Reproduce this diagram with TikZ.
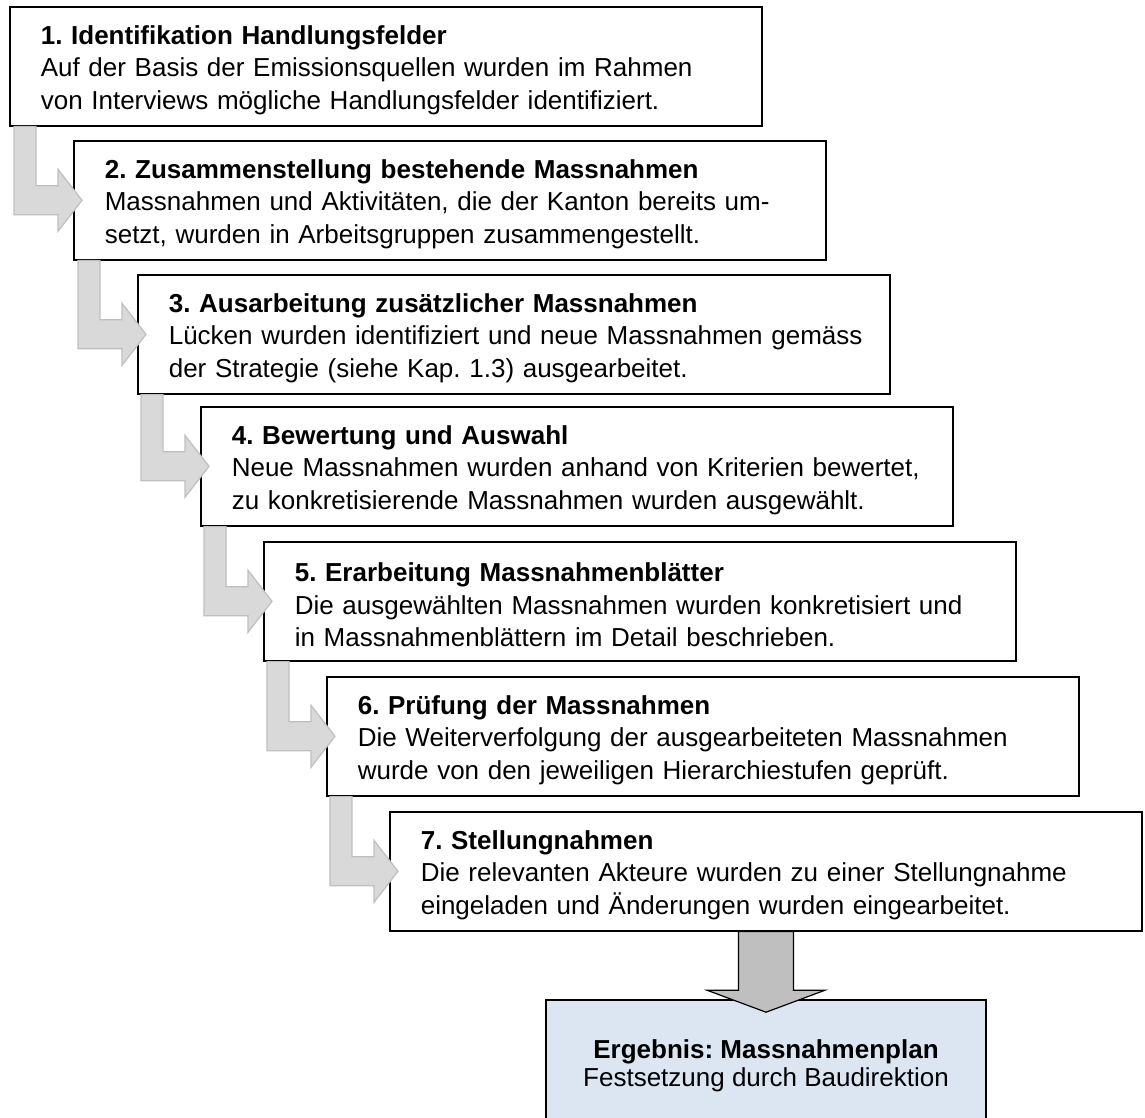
\documentclass[tikz,border=0pt]{standalone}
\usepackage{fontspec}
\setmainfont{Liberation Sans}
\usepackage{xcolor}
\usetikzlibrary{calc}
\frenchspacing

\definecolor{elbowfill}{HTML}{D9D9D9}
\definecolor{elbowline}{HTML}{BFBFBF}
\definecolor{downfill}{HTML}{BFBFBF}
\definecolor{resultfill}{HTML}{DCE6F2}

\tikzset{
  stepbox/.style={draw, line width=0.8pt, fill=white, anchor=north west,
    text width=376pt, inner xsep=0pt, inner ysep=0pt, text height=13.2pt,
    execute at begin node={\leftskip=15.5pt\relax},
    minimum height=59.5pt, align=left, font=\fontsize{13}{16.2}\selectfont},
  resultbox/.style={draw, line width=0.8pt, fill=resultfill,
    minimum width=220pt, minimum height=66pt, align=center,
    font=\fontsize{13}{14}\selectfont},
  elbow/.style={fill=elbowfill, draw=elbowline, line width=0.6pt, line join=miter},
  downarrow/.style={fill=downfill, draw=black, line width=0.6pt, line join=miter}
}

\begin{document}
\begin{tikzpicture}[x=0.5pt, y=-0.5pt]
  \fill[white] (0,0) rectangle (1145,1118);
  \useasboundingbox (0,0) rectangle (1145,1118);

  % steps
  \node[stepbox] (b1) at (9,6) {\textbf{1. Identifikation Handlungsfelder}\\Auf der Basis der Emissionsquellen wurden im Rahmen\\von Interviews mögliche Handlungsfelder identifiziert.};
  \node[stepbox] (b2) at (73,140) {\textbf{2. Zusammenstellung bestehende Massnahmen}\\Massnahmen und Aktivitäten, die der Kanton bereits um-\\setzt, wurden in Arbeitsgruppen zusammengestellt.};
  \node[stepbox] (b3) at (137,274) {\textbf{3. Ausarbeitung zusätzlicher Massnahmen}\\Lücken wurden identifiziert und neue Massnahmen gemäss\\der Strategie (siehe Kap. 1.3) ausgearbeitet.};
  \node[stepbox] (b4) at (200,406) {\textbf{4. Bewertung und Auswahl}\\Neue Massnahmen wurden anhand von Kriterien bewertet,\\zu konkretisierende Massnahmen wurden ausgewählt.};
  \node[stepbox] (b5) at (263,541) {\textbf{5. Erarbeitung Massnahmenblätter}\\Die ausgewählten Massnahmen wurden konkretisiert und\\in Massnahmenblättern im Detail beschrieben.};
  \node[stepbox] (b6) at (326,676) {\textbf{6. Prüfung der Massnahmen}\\Die Weiterverfolgung der ausgearbeiteten Massnahmen\\wurde von den jeweiligen Hierarchiestufen geprüft.};
  \node[stepbox] (b7) at (389,811) {\textbf{7. Stellungnahmen}\\Die relevanten Akteure wurden zu einer Stellungnahme\\eingeladen und Änderungen wurden eingearbeitet.};

  % result
  \node[resultbox] (res) at (766,1066) {\textbf{Ergebnis: Massnahmenplan}\\Festsetzung durch Baudirektion};

  % bent arrows between the steps
  \foreach \a/\b in {b1/b2,b2/b3,b3/b4,b4/b5,b5/b6,b6/b7}
    \draw[elbow] let \p1=(\b.west), \p2=(\a.south) in
      (\x1-29.5pt,\y2) -- (\x1-18.5pt,\y2) -- (\x1-18.5pt,\y1+7.25pt)
      -- (\x1-7.5pt,\y1+7.25pt) -- (\x1-7.5pt,\y1+15.5pt) -- (\x1+4.5pt,\y1)
      -- (\x1-7.5pt,\y1-15.5pt) -- (\x1-7.5pt,\y1-7.25pt) -- (\x1-29.5pt,\y1-7.25pt) -- cycle;

  % arrow to the result
  \draw[downarrow] let \p1=(res.north), \p2=(b7.south) in
    (\x1-13.75pt,\y2) -- (\x1+13.75pt,\y2) -- (\x1+13.75pt,\y1+4.5pt)
    -- (\x1+29.5pt,\y1+4.5pt) -- (\x1,\y1-6.5pt) -- (\x1-29.5pt,\y1+4.5pt)
    -- (\x1-13.75pt,\y1+4.5pt) -- cycle;
\end{tikzpicture}
\end{document}
